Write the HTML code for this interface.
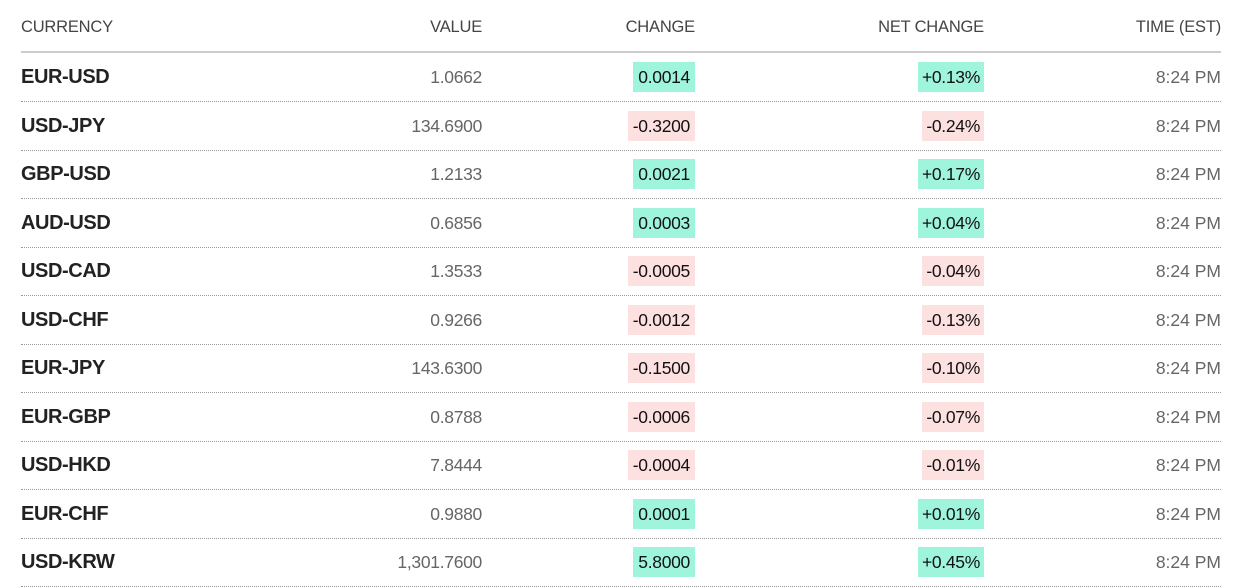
<!DOCTYPE html>
<html><head><style>
body{margin:0;background:#fff;width:1242px;height:582px;overflow:hidden;font-family:"Liberation Sans",sans-serif;}
.h{position:absolute;top:18px;font-size:16.5px;color:#444;letter-spacing:-0.2px}
.hl{position:absolute;left:21px;width:1200px;top:51px;height:2px;background:#ccc}
.r{position:absolute;left:21px;width:1200px;height:48px;border-bottom:1px dotted #999}
.r div{position:absolute;top:9px;height:30px;line-height:30px;font-size:17.5px;letter-spacing:-0.3px}
.c{left:0;font-weight:bold;color:#222;font-size:20px!important;letter-spacing:-0.4px!important}
.v{right:739px;color:#666}
.ch{right:526px;padding:0 5px;color:#111}
.n{right:237px;padding:0 4px;color:#111}
.t{right:0;color:#666;letter-spacing:0!important}
.g{background:#9ef5dc}.p{background:#fde0e0}
</style></head><body>
<div class="h" style="left:21px">CURRENCY</div>
<div class="h" style="right:760px">VALUE</div>
<div class="h" style="right:547px">CHANGE</div>
<div class="h" style="right:258px">NET CHANGE</div>
<div class="h" style="right:21px">TIME (EST)</div>
<div class="hl"></div>
<div class="r" style="top:53px"><div class="c">EUR-USD</div><div class="v">1.0662</div><div class="ch g">0.0014</div><div class="n g">+0.13%</div><div class="t">8:24 PM</div></div>
<div class="r" style="top:101.5px"><div class="c">USD-JPY</div><div class="v">134.6900</div><div class="ch p">-0.3200</div><div class="n p">-0.24%</div><div class="t">8:24 PM</div></div>
<div class="r" style="top:150px"><div class="c">GBP-USD</div><div class="v">1.2133</div><div class="ch g">0.0021</div><div class="n g">+0.17%</div><div class="t">8:24 PM</div></div>
<div class="r" style="top:198.5px"><div class="c">AUD-USD</div><div class="v">0.6856</div><div class="ch g">0.0003</div><div class="n g">+0.04%</div><div class="t">8:24 PM</div></div>
<div class="r" style="top:247px"><div class="c">USD-CAD</div><div class="v">1.3533</div><div class="ch p">-0.0005</div><div class="n p">-0.04%</div><div class="t">8:24 PM</div></div>
<div class="r" style="top:295.5px"><div class="c">USD-CHF</div><div class="v">0.9266</div><div class="ch p">-0.0012</div><div class="n p">-0.13%</div><div class="t">8:24 PM</div></div>
<div class="r" style="top:344px"><div class="c">EUR-JPY</div><div class="v">143.6300</div><div class="ch p">-0.1500</div><div class="n p">-0.10%</div><div class="t">8:24 PM</div></div>
<div class="r" style="top:392.5px"><div class="c">EUR-GBP</div><div class="v">0.8788</div><div class="ch p">-0.0006</div><div class="n p">-0.07%</div><div class="t">8:24 PM</div></div>
<div class="r" style="top:441px"><div class="c">USD-HKD</div><div class="v">7.8444</div><div class="ch p">-0.0004</div><div class="n p">-0.01%</div><div class="t">8:24 PM</div></div>
<div class="r" style="top:489.5px"><div class="c">EUR-CHF</div><div class="v">0.9880</div><div class="ch g">0.0001</div><div class="n g">+0.01%</div><div class="t">8:24 PM</div></div>
<div class="r" style="top:538px"><div class="c">USD-KRW</div><div class="v">1,301.7600</div><div class="ch g">5.8000</div><div class="n g">+0.45%</div><div class="t">8:24 PM</div></div>
</body></html>
